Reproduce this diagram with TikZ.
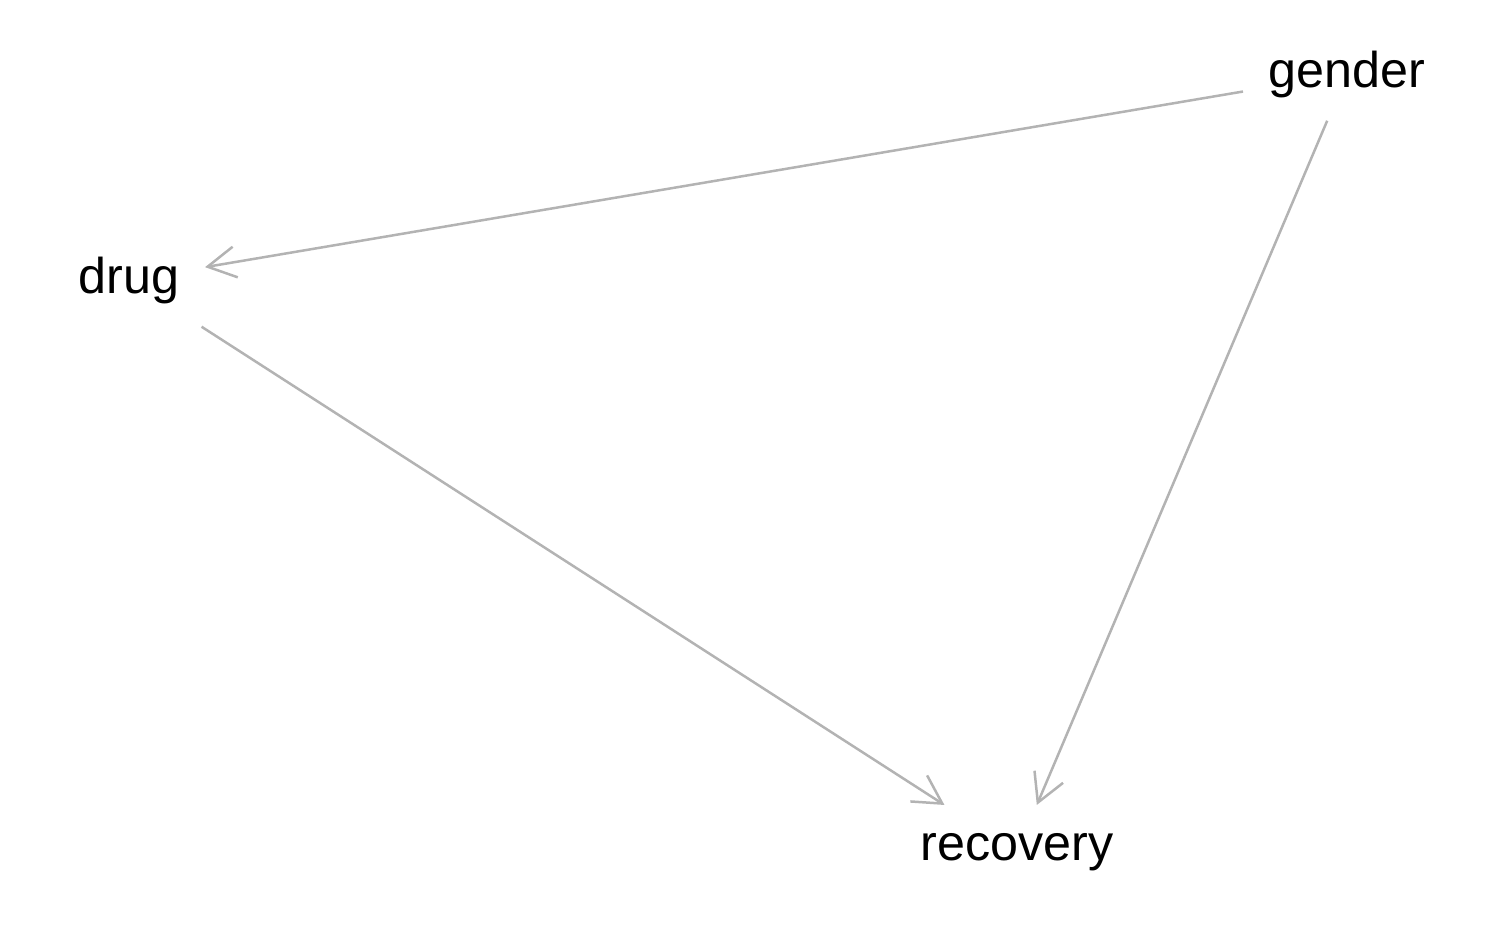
\documentclass[tikz,border=0pt]{standalone}
\usepackage{fontspec}
\setmainfont{Liberation Sans}
\usetikzlibrary{arrows.meta}
\definecolor{edgegray}{HTML}{B3B3B3}
\begin{document}
\begin{tikzpicture}[x=0.01cm,y=-0.01cm,
  var/.style={rectangle, inner xsep=0.25cm, inner ysep=0pt, minimum height=0.92cm, anchor=base, font=\fontsize{14.3pt}{17pt}\selectfont},
  link/.style={draw=edgegray, line width=0.025cm, -{Straight Barb[length=0.28cm, width=0.31cm, line width=0.025cm]}}]
\useasboundingbox (0,0) rectangle (1500,927);
\node[var] (gender) at (1347,87) {gender};
\node[var] (drug) at (129,293) {drug};
\node[var] (recovery) at (1017,860) {recovery};
\draw[link] (gender) -- (drug);
\draw[link] (gender) -- (recovery);
\draw[link] (drug) -- (recovery);
\end{tikzpicture}
\end{document}
